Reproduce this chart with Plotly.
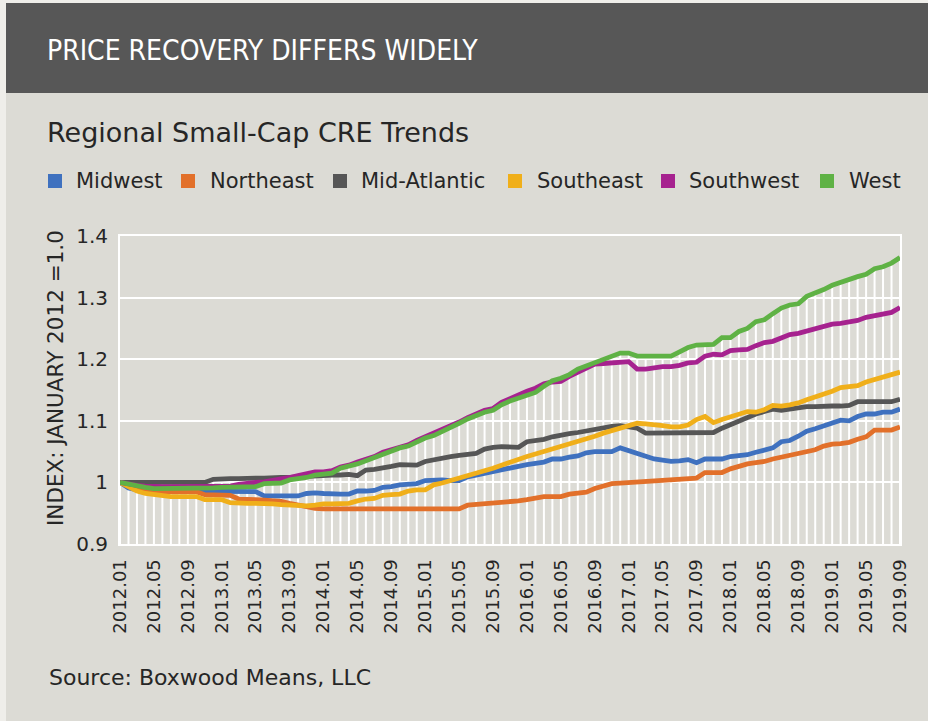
import plotly.graph_objects as go

# ---------------- data ----------------
months = [f"{y}.{m:02d}" for y in range(2012, 2020) for m in range(1, 13)][:93]
tick_labels = ["2012.01", "2012.05", "2012.09", "2013.01", "2013.05", "2013.09",
               "2014.01", "2014.05", "2014.09", "2015.01", "2015.05", "2015.09",
               "2016.01", "2016.05", "2016.09", "2017.01", "2017.05", "2017.09",
               "2018.01", "2018.05", "2018.09", "2019.01", "2019.05", "2019.09"]
y_ticks = [0.9, 1.0, 1.1, 1.2, 1.3, 1.4]
y_tick_text = ["0.9", "1", "1.1", "1.2", "1.3", "1.4"]

midwest = [1.000, 0.991, 0.988, 0.987, 0.986, 0.986, 0.986, 0.986, 0.986, 0.986,
           0.986, 0.986, 0.986, 0.986, 0.986, 0.986, 0.985, 0.978, 0.978, 0.978,
           0.978, 0.978, 0.982, 0.983, 0.982, 0.981, 0.981, 0.981, 0.986, 0.986,
           0.987, 0.992, 0.993, 0.996, 0.997, 0.998, 1.003, 1.004, 1.004, 1.003,
           1.003, 1.009, 1.012, 1.015, 1.018, 1.020, 1.024, 1.027, 1.029, 1.031,
           1.033, 1.038, 1.038, 1.041, 1.043, 1.048, 1.050, 1.050, 1.050, 1.056,
           1.051, 1.046, 1.041, 1.038, 1.036, 1.034, 1.035, 1.037, 1.032, 1.038,
           1.038, 1.038, 1.042, 1.043, 1.045, 1.049, 1.053, 1.056, 1.066, 1.068,
           1.075, 1.083, 1.087, 1.092, 1.097, 1.101, 1.100, 1.107, 1.111, 1.111,
           1.114, 1.114, 1.119]

northeast = [1.000, 0.993, 0.988, 0.986, 0.985, 0.985, 0.985, 0.985, 0.985, 0.985,
             0.980, 0.980, 0.980, 0.979, 0.973, 0.973, 0.972, 0.971, 0.970, 0.969,
             0.966, 0.963, 0.960, 0.958, 0.957, 0.957, 0.957, 0.957, 0.957, 0.957,
             0.957, 0.957, 0.957, 0.957, 0.957, 0.957, 0.957, 0.957, 0.957, 0.957,
             0.957, 0.963, 0.964, 0.965, 0.966, 0.967, 0.968, 0.970, 0.972, 0.974,
             0.977, 0.977, 0.977, 0.981, 0.982, 0.984, 0.990, 0.995, 0.998, 0.999,
             1.000, 1.000, 1.001, 1.002, 1.003, 1.004, 1.006, 1.007, 1.007, 1.016,
             1.016, 1.016, 1.022, 1.026, 1.030, 1.032, 1.034, 1.038, 1.041, 1.044,
             1.046, 1.050, 1.053, 1.059, 1.062, 1.063, 1.065, 1.070, 1.074, 1.085,
             1.085, 1.085, 1.090]

mid_atlantic = [1.000, 1.000, 1.000, 1.000, 1.000, 1.000, 1.000, 1.000, 1.000, 1.000,
                1.000, 1.005, 1.006, 1.006, 1.006, 1.007, 1.007, 1.007, 1.008, 1.008,
                1.008, 1.009, 1.010, 1.011, 1.011, 1.012, 1.012, 1.013, 1.011, 1.020,
                1.021, 1.023, 1.026, 1.029, 1.029, 1.028, 1.034, 1.037, 1.040, 1.042,
                1.044, 1.045, 1.047, 1.054, 1.057, 1.058, 1.058, 1.057, 1.066, 1.068,
                1.070, 1.074, 1.077, 1.079, 1.081, 1.084, 1.086, 1.089, 1.091, 1.092,
                1.090, 1.088, 1.080, 1.080, 1.080, 1.080, 1.080, 1.080, 1.080, 1.080,
                1.081, 1.088, 1.094, 1.100, 1.105, 1.111, 1.115, 1.119, 1.117, 1.119,
                1.121, 1.123, 1.123, 1.124, 1.124, 1.124, 1.125, 1.131, 1.131, 1.131,
                1.131, 1.131, 1.135]

southeast = [1.000, 0.992, 0.986, 0.982, 0.980, 0.979, 0.977, 0.977, 0.977, 0.977,
             0.972, 0.972, 0.972, 0.967, 0.966, 0.966, 0.966, 0.966, 0.965, 0.964,
             0.963, 0.962, 0.962, 0.963, 0.965, 0.965, 0.965, 0.966, 0.970, 0.973,
             0.974, 0.979, 0.980, 0.981, 0.986, 0.988, 0.988, 0.996, 0.999, 1.003,
             1.005, 1.010, 1.015, 1.019, 1.023, 1.028, 1.032, 1.037, 1.042, 1.046,
             1.050, 1.054, 1.058, 1.061, 1.066, 1.070, 1.075, 1.080, 1.084, 1.088,
             1.093, 1.096, 1.095, 1.094, 1.092, 1.090, 1.090, 1.093, 1.102, 1.107,
             1.097, 1.102, 1.107, 1.111, 1.115, 1.114, 1.118, 1.125, 1.124, 1.126,
             1.129, 1.134, 1.138, 1.143, 1.148, 1.154, 1.155, 1.157, 1.163, 1.167,
             1.171, 1.175, 1.179]

southwest = [1.000, 0.997, 0.995, 0.994, 0.993, 0.993, 0.993, 0.993, 0.993, 0.993,
             0.993, 0.993, 0.993, 0.994, 0.997, 0.999, 1.000, 1.001, 1.003, 1.005,
             1.008, 1.011, 1.014, 1.017, 1.017, 1.019, 1.025, 1.028, 1.033, 1.037,
             1.042, 1.049, 1.053, 1.058, 1.061, 1.068, 1.074, 1.078, 1.084, 1.091,
             1.098, 1.105, 1.111, 1.117, 1.120, 1.130, 1.136, 1.143, 1.148, 1.153,
             1.160, 1.163, 1.164, 1.172, 1.179, 1.186, 1.192, 1.193, 1.194, 1.195,
             1.196, 1.184, 1.184, 1.186, 1.188, 1.188, 1.190, 1.194, 1.195, 1.205,
             1.208, 1.207, 1.214, 1.215, 1.216, 1.222, 1.227, 1.229, 1.235, 1.240,
             1.242, 1.246, 1.251, 1.254, 1.257, 1.258, 1.260, 1.263, 1.268, 1.271,
             1.274, 1.276, 1.284]

west = [1.000, 0.997, 0.994, 0.992, 0.990, 0.990, 0.990, 0.990, 0.991, 0.991,
        0.991, 0.991, 0.992, 0.992, 0.992, 0.993, 0.993, 0.998, 0.998, 0.999,
        1.004, 1.006, 1.008, 1.012, 1.013, 1.015, 1.023, 1.026, 1.030, 1.035,
        1.040, 1.047, 1.051, 1.056, 1.059, 1.066, 1.072, 1.076, 1.082, 1.089,
        1.096, 1.103, 1.109, 1.114, 1.117, 1.126, 1.132, 1.137, 1.141, 1.146,
        1.156, 1.165, 1.169, 1.175, 1.184, 1.189, 1.194, 1.200, 1.205, 1.210,
        1.210, 1.205, 1.205, 1.205, 1.205, 1.205, 1.212, 1.219, 1.223, 1.223,
        1.224, 1.235, 1.235, 1.245, 1.250, 1.261, 1.264, 1.274, 1.283, 1.288,
        1.290, 1.302, 1.307, 1.313, 1.320, 1.324, 1.329, 1.334, 1.338, 1.347,
        1.350, 1.356, 1.365]

series_names = ["Midwest", "Northeast", "Mid-Atlantic", "Southeast", "Southwest", "West"]
series_values = [midwest, northeast, mid_atlantic, southeast, southwest, west]
series_colors = ["#3F71BF", "#E2702A", "#565656", "#F0AF1A", "#A6228F", "#5FB245"]

# ---------------- layout helpers (pixel -> paper) ----------------
W, H = 928, 721
L, R, T, B = 120, 900, 236, 544


def px(x):
    return (x - L) / (R - L)


def py(y):
    return (B - y) / (B - T)


BG = "#dcdbd5"
TEXT = "#262626"
FONT = "DejaVu Sans"

fig = go.Figure()

# drop lines (white) from highest series value down to axis at each month
top = [max(v) for v in zip(*series_values)]
dxs, dys = [], []
for m, t in zip(months, top):
    dxs += [m, m, None]
    dys += [y_ticks[0], t, None]
fig.add_trace(go.Scatter(x=dxs, y=dys, mode="lines", line=dict(color="white", width=2),
                         hoverinfo="skip", showlegend=False))

for name, vals, col in zip(series_names, series_values, series_colors):
    fig.add_trace(go.Scatter(x=months, y=vals, mode="lines", name=name,
                             line=dict(color=col, width=4.8), showlegend=False))

shapes = [
    # light left strip
    dict(type="rect", xref="paper", yref="paper", x0=px(0), x1=px(6), y0=py(721), y1=py(0),
         fillcolor="#efeeea", line=dict(width=0), layer="below"),
    # title bar
    dict(type="rect", xref="paper", yref="paper", x0=px(6), x1=px(928), y0=py(93), y1=py(3),
         fillcolor="#575757", line=dict(width=0), layer="below"),
    dict(type="rect", xref="paper", yref="paper", x0=px(6), x1=px(928), y0=py(3), y1=py(0),
         fillcolor="#efeeea", line=dict(width=0), layer="below"),
]

annotations = [
    dict(text="PRICE RECOVERY DIFFERS WIDELY", x=px(45), y=py(50), xref="paper", yref="paper",
         xanchor="left", yanchor="middle", showarrow=False,
         font=dict(family="DejaVu Sans Condensed, Liberation Sans Narrow, sans-serif",
                   size=28, color="white")),
    dict(text="Regional Small-Cap CRE Trends", x=px(45), y=py(133), xref="paper", yref="paper",
         xanchor="left", yanchor="middle", showarrow=False,
         font=dict(family=FONT, size=27, color=TEXT)),
    dict(text="INDEX: JANUARY 2012 =1.0", x=px(55), y=py(378), xref="paper", yref="paper",
         xanchor="center", yanchor="middle", textangle=-90, showarrow=False,
         font=dict(family=FONT, size=21.5, color=TEXT)),
    dict(text="Source: Boxwood Means, LLC", x=px(47), y=py(677), xref="paper", yref="paper",
         xanchor="left", yanchor="middle", showarrow=False,
         font=dict(family=FONT, size=22, color=TEXT)),
]

# manual legend with square swatches
legend_sq_x = [48, 181, 333, 508, 661, 820]
legend_tx_x = [74, 208, 359, 535, 687, 847]
for name, col, sx, tx in zip(series_names, series_colors, legend_sq_x, legend_tx_x):
    shapes.append(dict(type="rect", xref="paper", yref="paper", x0=px(sx), x1=px(sx + 14),
                       y0=py(188), y1=py(174), fillcolor=col, line=dict(width=0)))
    annotations.append(dict(text=name, x=px(tx), y=py(181), xref="paper", yref="paper",
                            xanchor="left", yanchor="middle", showarrow=False,
                            font=dict(family=FONT, size=21, color=TEXT)))

fig.update_layout(
    width=W, height=H, autosize=False,
    margin=dict(l=L, r=W - R, t=T, b=H - B, pad=0),
    paper_bgcolor=BG, plot_bgcolor=BG,
    showlegend=False, hovermode=False,
    shapes=shapes, annotations=annotations,
    xaxis=dict(type="category", categoryorder="array", categoryarray=months,
               range=[0, len(months) - 1], tickmode="array",
               tickvals=tick_labels, ticktext=tick_labels, tickangle=-90,
               showgrid=False, zeroline=False, showline=True, linecolor="white",
               linewidth=2, mirror=True, ticks="", ticklabelstandoff=6,
               tickfont=dict(family=FONT, size=18, color=TEXT)),
    yaxis=dict(range=[0.9, 1.4], tickmode="array", tickvals=y_ticks, ticktext=y_tick_text,
               showgrid=True, gridcolor="white", gridwidth=2, zeroline=False,
               showline=True, linecolor="white", linewidth=2, mirror=True, ticks="",
               ticklabelstandoff=6, tickfont=dict(family=FONT, size=20, color=TEXT)),
)

fig.write_html("out.html", config={"displayModeBar": False, "staticPlot": True},
               post_script="document.body.style.margin='0';document.body.style.overflow='hidden';")
